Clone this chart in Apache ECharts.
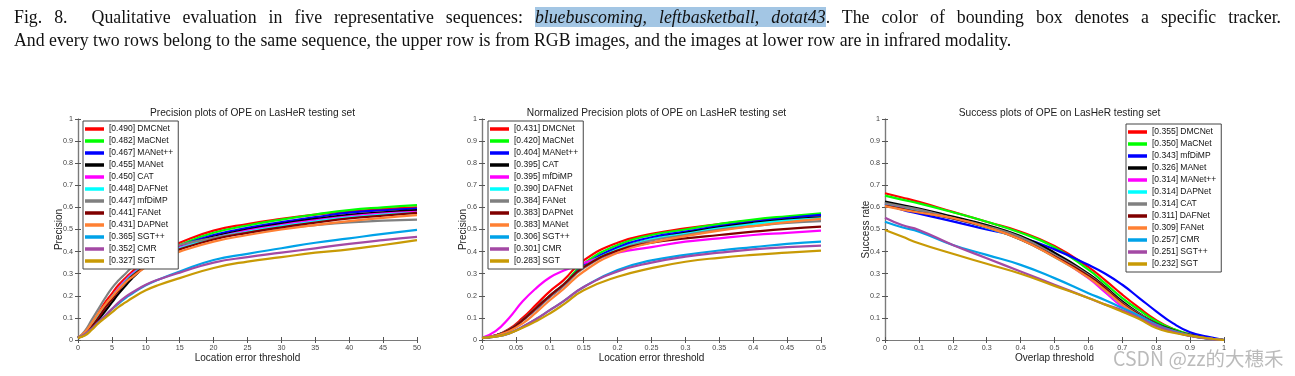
<!DOCTYPE html>
<html><head><meta charset="utf-8">
<script src="https://cdn.jsdelivr.net/npm/echarts@6/dist/echarts.min.js"></script>
<style>
html,body{margin:0;padding:0;background:#fff;width:1295px;height:376px;overflow:hidden;}
#chart{position:absolute;left:0;top:0;width:1295px;height:376px;}
.cap{position:absolute;left:14px;font-family:"Liberation Serif","Times New Roman",serif;font-size:17.8px;line-height:23px;color:#111;white-space:nowrap;}
#l1{top:6px;width:1267px;text-align:justify;text-align-last:justify;white-space:normal;}
#l2{top:29px;}
.hl{background:#a3c6e4;font-style:italic;}
#wm{position:absolute;left:1113px;top:343px;font-family:"Noto Sans CJK SC",sans-serif;font-size:19.5px;color:rgba(120,120,120,0.5);white-space:nowrap;}
</style></head>
<body>
<div id="chart"></div>
<div class="cap" id="l1">Fig. 8.&nbsp; Qualitative evaluation in five representative sequences: <span class="hl">bluebuscoming</span><span class="hl">, </span><span class="hl">leftbasketball</span><span class="hl">, </span><span class="hl">dotat43</span>. The color of bounding box denotes a specific tracker.</div>
<div class="cap" id="l2">And every two rows belong to the same sequence, the upper row is from RGB images, and the images at lower row are in infrared modality.</div>
<div id="wm">CSDN @zz的大穗禾</div>
<script>
// ---------- Chart 1: Precision ----------
const precX = [0,1,2,3,4,5,6,7,8,10,12,15,20,25,30,35,40,45,50];
const precNames = ['[0.490] DMCNet','[0.482] MaCNet','[0.467] MANet++','[0.455] MANet','[0.450] CAT','[0.448] DAFNet','[0.447] mfDiMP','[0.441] FANet','[0.431] DAPNet','[0.365] SGT++','[0.352] CMR','[0.327] SGT'];
const precDMCNet = [0.01,0.03,0.07,0.12,0.17,0.21,0.25,0.28,0.31,0.36,0.40,0.44,0.495,0.525,0.548,0.567,0.582,0.592,0.60];
const precMaCNet = [0.01,0.03,0.065,0.11,0.155,0.195,0.235,0.27,0.30,0.35,0.39,0.43,0.485,0.518,0.545,0.568,0.588,0.60,0.61];
const precMANetpp = [0.01,0.03,0.065,0.11,0.155,0.195,0.23,0.265,0.295,0.345,0.385,0.425,0.475,0.507,0.533,0.556,0.576,0.587,0.595];
const precMANet = [0.01,0.025,0.05,0.09,0.13,0.17,0.21,0.245,0.28,0.335,0.38,0.42,0.467,0.50,0.526,0.548,0.566,0.578,0.588];
const precCAT = [0.01,0.03,0.065,0.11,0.155,0.195,0.235,0.27,0.30,0.345,0.385,0.42,0.462,0.495,0.52,0.541,0.56,0.572,0.58];
const precDAFNet = [0.01,0.03,0.065,0.11,0.155,0.195,0.23,0.265,0.295,0.34,0.38,0.415,0.46,0.49,0.515,0.536,0.555,0.567,0.575];
const precMfDiMP = [0.01,0.04,0.09,0.14,0.19,0.235,0.27,0.30,0.33,0.37,0.40,0.43,0.462,0.486,0.505,0.52,0.532,0.54,0.545];
const precFANet = [0.01,0.03,0.06,0.10,0.145,0.185,0.225,0.26,0.29,0.335,0.375,0.41,0.455,0.485,0.51,0.531,0.55,0.563,0.575];
const precDAPNet = [0.01,0.035,0.075,0.12,0.16,0.195,0.23,0.26,0.285,0.33,0.365,0.40,0.445,0.475,0.50,0.52,0.538,0.553,0.565];
const precSGTpp = [0.01,0.025,0.05,0.08,0.11,0.14,0.165,0.19,0.21,0.248,0.275,0.31,0.362,0.39,0.415,0.44,0.46,0.48,0.498];
const precCMR = [0.01,0.025,0.05,0.08,0.11,0.14,0.17,0.195,0.215,0.25,0.275,0.305,0.35,0.375,0.395,0.415,0.435,0.452,0.467];
const precSGT = [0.01,0.02,0.045,0.075,0.10,0.125,0.15,0.17,0.19,0.225,0.25,0.28,0.326,0.355,0.375,0.395,0.41,0.43,0.452];
const precSeries = [precDMCNet,precMaCNet,precMANetpp,precMANet,precCAT,precDAFNet,precMfDiMP,precFANet,precDAPNet,precSGTpp,precCMR,precSGT];

// ---------- Chart 2: Normalized precision ----------
const normX = [0,0.02,0.04,0.06,0.08,0.1,0.12,0.15,0.2,0.25,0.3,0.35,0.4,0.45,0.5];
const normNames = ['[0.431] DMCNet','[0.420] MaCNet','[0.404] MANet++','[0.395] CAT','[0.395] mfDiMP','[0.390] DAFNet','[0.384] FANet','[0.383] DAPNet','[0.383] MANet','[0.306] SGT++','[0.301] CMR','[0.283] SGT'];
const normDMCNet = [0.01,0.02,0.05,0.10,0.16,0.22,0.27,0.36,0.44,0.48,0.505,0.525,0.54,0.555,0.565];
const normMaCNet = [0.01,0.02,0.045,0.09,0.145,0.20,0.25,0.345,0.43,0.475,0.50,0.525,0.545,0.56,0.573];
const normMANetpp = [0.01,0.02,0.045,0.09,0.14,0.195,0.245,0.335,0.42,0.465,0.49,0.515,0.535,0.552,0.566];
const normCAT = [0.01,0.02,0.045,0.09,0.145,0.20,0.25,0.33,0.41,0.455,0.485,0.51,0.53,0.545,0.555];
const normMfDiMP = [0.01,0.04,0.10,0.175,0.235,0.283,0.313,0.348,0.395,0.42,0.445,0.46,0.475,0.485,0.495];
const normDAFNet = [0.01,0.02,0.045,0.09,0.145,0.20,0.25,0.33,0.41,0.455,0.48,0.505,0.525,0.54,0.55];
const normFANet = [0.01,0.02,0.045,0.09,0.14,0.195,0.245,0.325,0.405,0.45,0.475,0.50,0.515,0.53,0.538];
const normDAPNet = [0.01,0.02,0.045,0.09,0.145,0.20,0.25,0.33,0.405,0.44,0.46,0.475,0.49,0.503,0.513];
const normMANet = [0.01,0.02,0.04,0.075,0.125,0.18,0.23,0.31,0.395,0.44,0.47,0.495,0.515,0.533,0.548];
const normSGTpp = [0.01,0.015,0.03,0.06,0.095,0.135,0.175,0.24,0.317,0.36,0.385,0.405,0.42,0.435,0.445];
const normCMR = [0.01,0.015,0.03,0.06,0.095,0.135,0.175,0.24,0.31,0.35,0.377,0.395,0.41,0.42,0.427];
const normSGT = [0.01,0.015,0.03,0.055,0.085,0.12,0.16,0.225,0.286,0.325,0.354,0.372,0.385,0.395,0.404];
const normSeries = [normDMCNet,normMaCNet,normMANetpp,normCAT,normMfDiMP,normDAFNet,normFANet,normDAPNet,normMANet,normSGTpp,normCMR,normSGT];

// ---------- Chart 3: Success ----------
const succX = [0,0.05,0.1,0.2,0.3,0.4,0.5,0.6,0.65,0.7,0.75,0.8,0.85,0.9,0.95,1];
const succNames = ['[0.355] DMCNet','[0.350] MaCNet','[0.343] mfDiMP','[0.326] MANet','[0.314] MANet++','[0.314] DAPNet','[0.314] CAT','[0.311] DAFNet','[0.309] FANet','[0.257] CMR','[0.251] SGT++','[0.232] SGT'];
const succDMCNet = [0.664,0.645,0.625,0.58,0.535,0.49,0.425,0.33,0.27,0.205,0.145,0.09,0.05,0.025,0.01,0];
const succMaCNet = [0.653,0.635,0.618,0.578,0.535,0.485,0.42,0.318,0.255,0.19,0.135,0.085,0.05,0.025,0.01,0];
const succMfDiMP = [0.618,0.59,0.572,0.537,0.50,0.465,0.41,0.34,0.30,0.25,0.19,0.13,0.075,0.035,0.015,0];
const succMANet = [0.626,0.61,0.595,0.558,0.52,0.47,0.395,0.30,0.24,0.175,0.12,0.075,0.045,0.022,0.008,0];
const succMANetpp = [0.615,0.60,0.588,0.55,0.51,0.458,0.38,0.28,0.215,0.15,0.10,0.062,0.038,0.02,0.007,0];
const succDAPNet = [0.61,0.595,0.58,0.55,0.508,0.455,0.375,0.285,0.225,0.16,0.11,0.065,0.04,0.02,0.007,0];
const succCAT = [0.62,0.605,0.59,0.552,0.515,0.465,0.385,0.295,0.235,0.168,0.118,0.072,0.043,0.021,0.008,0];
const succDAFNet = [0.608,0.593,0.578,0.55,0.51,0.455,0.378,0.29,0.233,0.165,0.115,0.072,0.042,0.022,0.008,0];
const succFANet = [0.606,0.59,0.577,0.552,0.51,0.455,0.375,0.283,0.225,0.16,0.11,0.068,0.04,0.02,0.007,0];
const succCMR = [0.535,0.51,0.49,0.43,0.385,0.34,0.28,0.212,0.18,0.145,0.11,0.07,0.04,0.02,0.007,0];
const succSGTpp = [0.553,0.52,0.498,0.43,0.37,0.31,0.25,0.19,0.16,0.135,0.10,0.065,0.037,0.018,0.006,0];
const succSGT = [0.498,0.468,0.438,0.39,0.345,0.30,0.245,0.19,0.16,0.128,0.095,0.054,0.033,0.02,0.008,0];
const succSeries = [succDMCNet,succMaCNet,succMfDiMP,succMANet,succMANetpp,succDAPNet,succCAT,succDAFNet,succFANet,succCMR,succSGTpp,succSGT];

const rankColors = ['#ff0000','#00ff00','#0000ff','#000000','#ff00ff','#00ffff','#808080','#800000','#ff8033','#00a2e8','#a349a4','#c89a05'];

const grids = [
  {left:78, top:119, width:339, height:221},
  {left:482, top:119, width:339, height:221},
  {left:885, top:119, width:339, height:221}
];
const xCfg = [
  {max:50, interval:5, name:'Location error threshold'},
  {max:0.5, interval:0.05, name:'Location error threshold'},
  {max:1, interval:0.1, name:'Overlap threshold'}
];
const yNames = ['Precision','Precision','Success rate'];
const titles = ['Precision plots of OPE on LasHeR testing set','Normalized Precision plots of OPE on LasHeR testing set','Success plots of OPE on LasHeR testing set'];
const legendPos = [{left:83, top:121},{left:488, top:121},{left:1126, top:124}];

const axisLine = {show:true, lineStyle:{color:'#7a7a7a', width:1.2}};
const fmt = v => String(+v.toFixed(2));
const xAxis = [], yAxis = [], title = [], legend = [], series = [];
const allX = [precX, normX, succX], allNames = [precNames, normNames, succNames], allSeries = [precSeries, normSeries, succSeries];
for (let g = 0; g < 3; g++) {
  xAxis.push({type:'value', gridIndex:g, min:0, max:xCfg[g].max, interval:xCfg[g].interval, position:'bottom',
    name:xCfg[g].name, nameLocation:'middle', nameGap:13, nameMoveOverlap:false, nameTextStyle:{fontSize:10, color:'#222', fontFamily:'Liberation Sans'},
    axisLine, axisTick:{inside:true, length:3, lineStyle:{color:'#555'}}, splitLine:{show:false},
    axisLabel:{fontSize:7.2, color:'#444', margin:5, formatter:fmt, fontFamily:'Liberation Sans'}});
  xAxis.push({type:'value', gridIndex:g, min:0, max:xCfg[g].max, interval:xCfg[g].interval, position:'top',
    axisLine, axisTick:{inside:true, length:3, lineStyle:{color:'#555'}}, splitLine:{show:false}, axisLabel:{show:false}});
  yAxis.push({type:'value', gridIndex:g, min:0, max:1, interval:0.1, position:'left',
    name:yNames[g], nameLocation:'middle', nameGap:14, nameMoveOverlap:false, nameTextStyle:{fontSize:10, color:'#222', fontFamily:'Liberation Sans'},
    axisLine, axisTick:{inside:true, length:3, lineStyle:{color:'#555'}}, splitLine:{show:false},
    axisLabel:{fontSize:7.2, color:'#444', margin:5, formatter:fmt, fontFamily:'Liberation Sans'}});
  yAxis.push({type:'value', gridIndex:g, min:0, max:1, interval:0.1, position:'right',
    axisLine, axisTick:{inside:true, length:3, lineStyle:{color:'#555'}}, splitLine:{show:false}, axisLabel:{show:false}});
  title.push({text:titles[g], left:grids[g].left + grids[g].width/2, top:103, textAlign:'center',
    textStyle:{fontSize:10.2, fontWeight:'normal', color:'#222', fontFamily:'Liberation Sans'}});
  legend.push({orient:'vertical', left:legendPos[g].left, top:legendPos[g].top, data:allNames[g],
    icon:'rect', itemWidth:19, itemHeight:3.5, itemGap:0, padding:[2,5,2,2],
    borderColor:'#444', borderWidth:1, backgroundColor:'#fff',
    textStyle:{fontSize:8.5, lineHeight:12, color:'#111', fontFamily:'Liberation Sans'}, selectedMode:false});
  for (let i = 0; i < 12; i++) {
    series.push({type:'line', name:allNames[g][i], xAxisIndex:g*2, yAxisIndex:g*2,
      data:allX[g].map((x, k) => [x, allSeries[g][i][k]]),
      showSymbol:false, smooth:0.5, color:rankColors[i],
      lineStyle:{width:2.2, color:rankColors[i]}, animation:false, z:2});
  }
}
const chart = echarts.init(document.getElementById('chart'), null, {renderer:'canvas'});
chart.setOption({animation:false, grid:grids, xAxis, yAxis, title, legend, series});
</script>
</body></html>
